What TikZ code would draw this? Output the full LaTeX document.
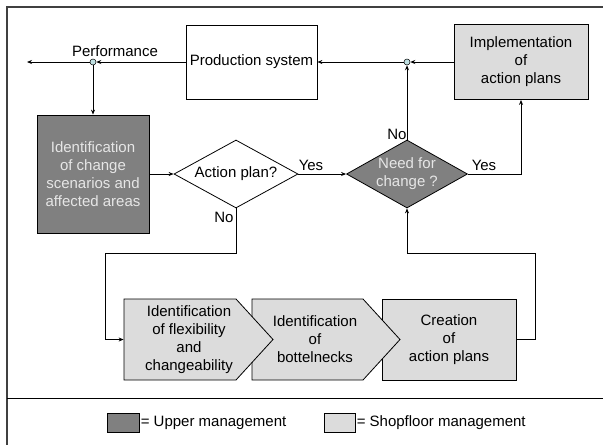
\documentclass[tikz,border=0pt]{standalone}
\usepackage{fontspec}
\setmainfont{Liberation Sans}
\usetikzlibrary{shapes.geometric,arrows.meta}
\definecolor{upgray}{HTML}{808080}
\definecolor{uptext}{HTML}{E6E6E6}
\definecolor{shopgray}{HTML}{DCDCDC}
\definecolor{jointblue}{HTML}{BFE0E2}
\definecolor{framegray}{HTML}{404040}

\begin{document}
\begin{tikzpicture}[x=1pt,y=-1pt,line width=0.8pt,
        font=\fontsize{15}{18}\selectfont,
        >={Stealth[length=5pt,width=4pt]},
        box/.style={draw,rectangle,align=center,inner sep=0pt},
        upper/.style={fill=upgray,text=uptext},
        shop/.style={fill=shopgray},
        decide/.style={draw,diamond,align=center,inner sep=-2pt,aspect=1.8},
        stepbox/.style={draw,fill=shopgray,line join=miter},
        joint/.style={draw,circle,fill=jointblue,inner sep=0pt,minimum size=6pt,line width=0.5pt}]
    \useasboundingbox (0,0) rectangle (603,445);
    % frame and legend separator
    \draw[framegray,line width=2pt] (603,7) -- (7,7) -- (7,445);
    \draw[line width=1pt] (7,398) -- (603,398);

    % upper row
    \node[box,minimum width=131,minimum height=74] (prod) at (251.5,62) {Production system};
    \node[box,shop,minimum width=134,minimum height=75] (impl) at (521,62) {Implementation\\of\\action plans};
    \node[joint] (perf) at (93,62) {};
    \node[joint] (merge) at (407,62) {};
    \coordinate (out) at (27,62);
    \node (perflbl) at (115,51) {Performance};

    % decisions
    \node[box,upper,minimum width=112,minimum height=118] (scen) at (93,174)
        {Identification\\of change\\scenarios and\\affected areas};
    \node[decide,minimum width=124,minimum height=68] (plan) at (236,174) {Action plan?};
    \node[decide,upper,minimum width=121,minimum height=68] (need) at (407,174) {Need for\\change ?};

    % shopfloor steps, drawn back to front
    \node[box,shop,minimum width=134,minimum height=81] (create) at (449,339.5)
        {Creation\\of\\action plans};
    \filldraw[stepbox] (252,299) -- (363,299) -- (400,339.5) -- (363,380) -- (252,380) -- cycle
        node[align=center] (neck) at (315,339.5) {Identification\\of\\bottelnecks};
    \filldraw[stepbox] (124,299) -- (236,299) -- (273,339.5) -- (236,380) -- (124,380) -- cycle
        node[align=center,minimum width=130] (flex) at (189,339.5)
        {Identification\\of flexibility\\and\\changeability};

    % connectors
    \draw[->] (prod.west) -- (perf);
    \draw[->] (perf) -- (out);
    \draw[->] (perf) -- (scen.north);
    \draw[->] (impl.west) -- (merge);
    \draw[->] (merge) -- (prod.east);
    \draw[->] (need.north) -- (merge);
    \draw[->] (scen.east) -- (plan.west);
    \draw[->] (plan.east) -- (need.west);
    \draw[->] (need.east) -| (impl.south);
    \draw[->] (plan.south) |- (105,253) |- (flex.west);
    \draw[->] (create.east) -| (535,253) -| (need.south);

    \node (yesplan) at (311,165) {Yes};
    \node (noplan) at (224,217) {No};
    \node (noneed) at (397,134) {No};
    \node (yesneed) at (484,165) {Yes};

    % legend
    \node[box,upper,minimum width=32,minimum height=19] (keyup) at (123,422.5) {};
    \node[right,inner sep=1pt] (keyuplbl) at (keyup.east) {= Upper management};
    \node[box,shop,minimum width=31,minimum height=19] (keyshop) at (339.5,422.5) {};
    \node[right,inner sep=1pt] (keyshoplbl) at (keyshop.east) {= Shopfloor management};
\end{tikzpicture}
\end{document}
